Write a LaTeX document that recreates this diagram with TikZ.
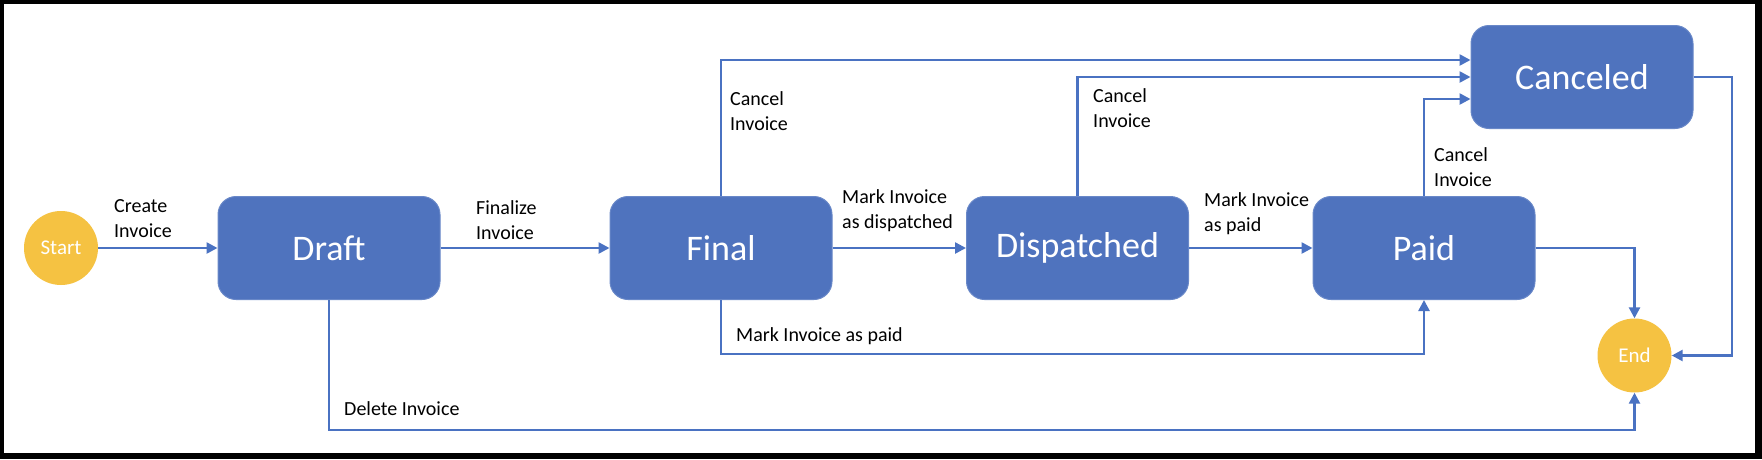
\documentclass[tikz,border=0pt]{standalone}
\usepackage{fontspec}
\setmainfont{Carlito}
\usetikzlibrary{arrows.meta}
\definecolor{boxblue}{HTML}{4F73BE}
\definecolor{linkblue}{HTML}{4A72C2}
\definecolor{gold}{HTML}{F5C242}
\begin{document}
\begin{tikzpicture}[x=1pt,y=-1pt,
  state/.style={fill=boxblue, draw=boxblue!85!white, line width=1pt, rounded corners=18pt,
    minimum width=222pt, minimum height=103pt, text=white, inner sep=0,
    font=\fontsize{36}{40}\selectfont},
  term/.style={circle, fill=gold, minimum size=74pt, inner sep=0, text=white,
    font=\fontsize{21}{24}\selectfont},
  link/.style={draw=linkblue, line width=2.5pt, -{Triangle[length=11pt,width=11pt]}},
  lbl/.style={anchor=north west, inner sep=0, align=left, text=black,
    font=\fontsize{20}{25}\selectfont}]
\fill[black] (0,0) rectangle (1762,459);
\fill[white] (4,4) rectangle (1755,453);
% states
\node[term] (start) at (61,248) {Start};
\node[state] (draft) at (329,248) {Draft};
\node[state] (final) at (721,248) {Final};
\node[state] (disp) at (1077.5,248) {Dispatched};
\node[state] (paid) at (1424,248) {Paid};
\node[state] (canc) at (1582,77) {Canceled};
\node[term] (end) at (1634.5,355.5) {End};
% helper levels
\coordinate (yA) at (0,60);
\coordinate (yC) at (0,99);
\coordinate (yB) at (0,354);
\coordinate (yD) at (0,430);
\coordinate (xR) at (1732,0);
% connectors
\draw[link] (start) -- (draft);
\draw[link] (draft) -- (final);
\draw[link] (final) -- (disp);
\draw[link] (disp) -- (paid);
\draw[link] (final.north) |- (canc.west |- yA);
\draw[link] (disp.north) |- (canc.west);
\draw[link] (paid.north) |- (canc.west |- yC);
\draw[link] (paid.east) -| (end.north);
\draw[link] (canc.east) -- (xR |- canc.east) |- (end.east);
\draw[link] (final.south) |- (paid.south |- yB) -- (paid.south);
\draw[link] (draft.south) |- (end.south |- yD) -- (end.south);
% labels
\node[lbl] (lcreate) at (114,199) {Create\\Invoice};
\node[lbl] (lfin) at (476,200) {Finalize\\Invoice};
\node[lbl] (lc1) at (730,91) {Cancel\\Invoice};
\node[lbl] (lmd) at (842,189) {Mark Invoice\\as dispatched};
\node[lbl] (lc2) at (1093,88) {Cancel\\Invoice};
\node[lbl] (lmp) at (1204,192) {Mark Invoice\\as paid};
\node[lbl] (lc3) at (1434,147) {Cancel\\Invoice};
\node[lbl] (lmp2) at (736,327) {Mark Invoice as paid};
\node[lbl] (ldel) at (344,401) {Delete Invoice};
\end{tikzpicture}
\end{document}
